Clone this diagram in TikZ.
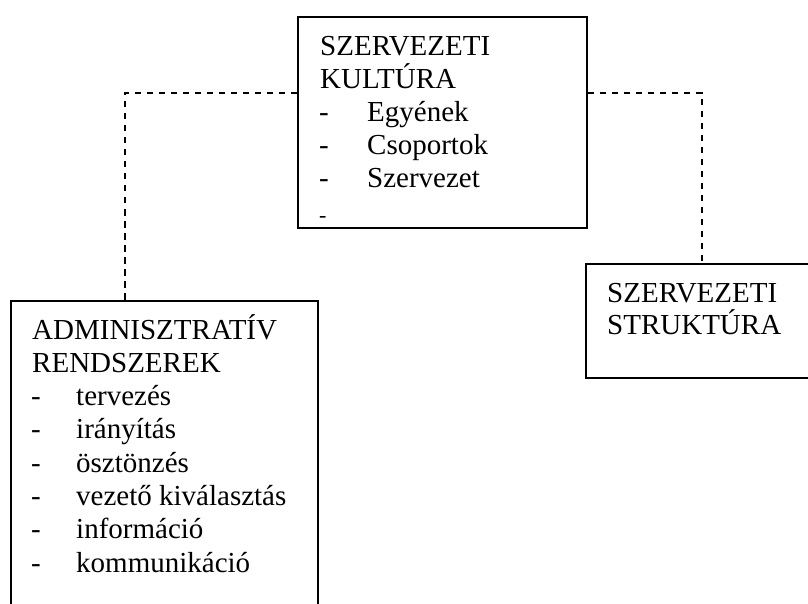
\documentclass[tikz,border=0pt]{standalone}
\usepackage{fontspec}
\setmainfont{Liberation Serif}
\usetikzlibrary{calc}
\begin{document}
\begin{tikzpicture}[x=1pt,y=-1pt,
  box/.style={draw, line width=1.8pt, rectangle, inner sep=0pt, anchor=north west},
  conn/.style={draw, line width=1.5pt, dash pattern=on 6.5pt off 5.5pt},
  txt/.style={anchor=base west, inner sep=0pt, font=\fontsize{29}{33}\selectfont}]
\useasboundingbox (0,0) rectangle (808,604);
\clip (0,0) rectangle (808,604);
% boxes
\node[box, minimum width=289pt, minimum height=211pt] (cult) at (297,16) {};
\node[box, minimum width=307pt, minimum height=340pt] (adm) at (10,300) {};
\node[box, minimum width=232pt, minimum height=114pt] (struk) at (585,263) {};
% connectors
\coordinate (cl) at ($(cult.north west)+(0,77)$);
\coordinate (al) at ($(adm.north west)+(115,0)$);
\coordinate (cr) at ($(cult.north east)+(0,77)$);
\draw[conn] (cl) -| (al);
\draw[conn] (cr) -| (struk.north);
% top box text
\node[txt] (c0) at (320,56) {SZERVEZETI};
\node[txt] (c1) at (320,89) {KULTÚRA};
\foreach [count=\k from 2] \t in {Egyének, Csoportok, Szervezet} {
  \node[txt] (cd\k) at (319,56+33*\k) {-};
  \node[txt] (ct\k) at (367,56+33*\k) {\t};
}
\node[txt, font=\fontsize{22}{22}\selectfont] (cd5) at (319,222.5) {-};
% left box text
\node[txt] (a0) at (32,339) {ADMINISZTRATÍV};
\node[txt] (a1) at (32,372.3) {RENDSZEREK};
\foreach [count=\k from 2] \t in {tervezés, irányítás, ösztönzés, vezető kiválasztás, információ, kommunikáció} {
  \node[txt] (ad\k) at (31,339+33.3*\k) {-};
  \node[txt] (at\k) at (76,339+33.3*\k) {\t};
}
% right box text
\node[txt] (s0) at (607,302) {SZERVEZETI};
\node[txt] (s1) at (607,334) {STRUKTÚRA};
\end{tikzpicture}
\end{document}
